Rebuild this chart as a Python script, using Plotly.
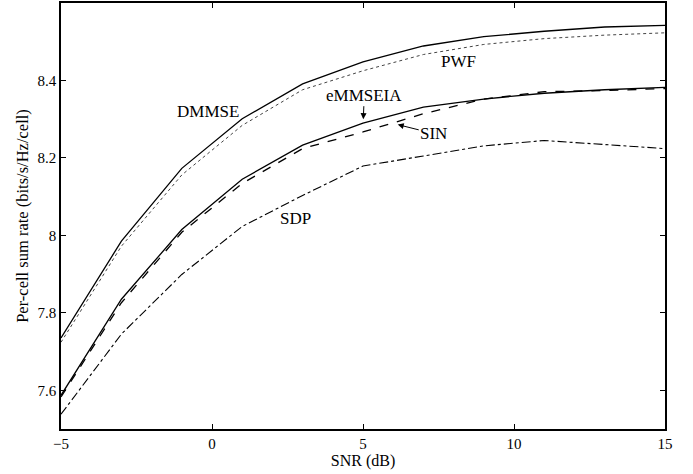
import plotly.graph_objects as go

snr = [-5, -3, -1, 1, 3, 5, 7, 9, 11, 13, 15]
dmmse = [7.735, 7.985, 8.173, 8.301, 8.391, 8.448, 8.489, 8.513, 8.527, 8.538, 8.542]
pwf = [7.724, 7.972, 8.156, 8.284, 8.376, 8.425, 8.467, 8.493, 8.508, 8.517, 8.523]
emmseia = [7.587, 7.835, 8.015, 8.145, 8.233, 8.290, 8.331, 8.352, 8.367, 8.376, 8.382]
sin = [7.583, 7.826, 8.008, 8.134, 8.224, 8.267, 8.314, 8.352, 8.371, 8.374, 8.379]
sdp = [7.538, 7.745, 7.899, 8.023, 8.103, 8.179, 8.205, 8.231, 8.245, 8.234, 8.224]

x_ticks = [-5, 0, 5, 10, 15]
y_ticks = [7.6, 7.8, 8.0, 8.2, 8.4]
y_tick_labels = ["7.6", "7.8", "8", "8.2", "8.4"]

FONT = "'Liberation Serif', 'DejaVu Serif', serif"

fig = go.Figure()
series = [
    ("DMMSE", dmmse, "solid", 1.3, "black"),
    ("PWF", pwf, "dot", 1.0, "#444444"),
    ("eMMSEIA", emmseia, "solid", 1.3, "black"),
    ("SIN", sin, "dash", 1.3, "black"),
    ("SDP", sdp, "dashdot", 1.1, "black"),
]
for name, vals, dash, w, c in series:
    fig.add_trace(go.Scatter(x=snr, y=vals, mode="lines", name=name,
                             line=dict(color=c, dash=dash, width=w)))

axis_common = dict(showgrid=False, zeroline=False, showline=True, linecolor="black",
                   linewidth=1.5, mirror="ticks", ticks="inside", ticklen=5,
                   tickcolor="black", tickfont=dict(family=FONT, size=15, color="black"))

fig.update_xaxes(range=[-5, 15], tickvals=x_ticks,
                 title=dict(text="SNR (dB)", font=dict(family=FONT, size=16, color="black"), standoff=2),
                 **axis_common)
fig.update_yaxes(range=[7.5, 8.6], tickvals=y_ticks, ticktext=y_tick_labels,
                 title=dict(text="Per-cell sum rate (bits/s/Hz/cell)", font=dict(family=FONT, size=16.5, color="black"), standoff=5),
                 **axis_common)

ann_font = dict(family=FONT, size=17, color="black")
annotations = [
    dict(x=-0.12, y=8.32, text="DMMSE", showarrow=False, font=ann_font),
    dict(x=2.76, y=8.044, text="SDP", showarrow=False, font=ann_font),
    dict(x=8.16, y=8.449, text="PWF", showarrow=False, font=ann_font),
    dict(x=5.01, y=8.30, text="eMMSEIA", showarrow=True, ax=1, ay=-24,
         arrowhead=2, arrowsize=1.2, arrowwidth=1, arrowcolor="black", font=ann_font),
    dict(x=6.15, y=8.286, text="SIN", showarrow=True, ax=36, ay=9,
         arrowhead=2, arrowsize=1.2, arrowwidth=1, arrowcolor="black", font=ann_font),
]
fig.update_layout(
    width=693, height=474,
    margin=dict(l=61, r=28, t=1, b=45),
    paper_bgcolor="white", plot_bgcolor="white",
    showlegend=False,
    annotations=annotations,
    font=dict(family=FONT, color="black"),
)
fig.write_html("out.html", config={"displayModeBar": False},
               post_script="document.body.style.margin='0';document.body.style.padding='0';")
